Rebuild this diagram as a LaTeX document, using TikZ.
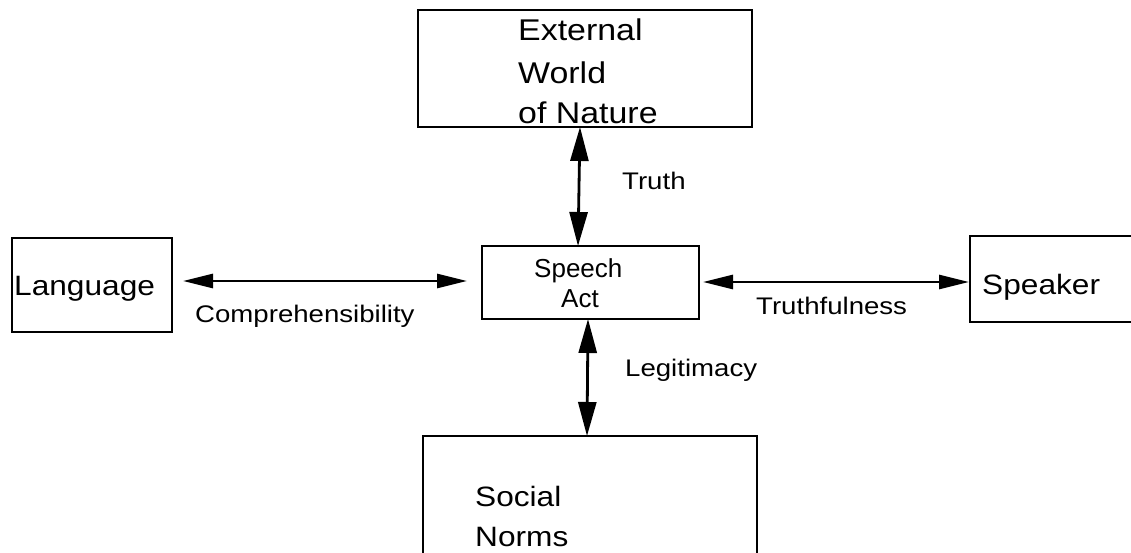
\documentclass[tikz,border=0pt]{standalone}
\usepackage{fontspec}
\setmainfont{Liberation Sans}
\newfontfamily\widefont[FakeStretch=1.13]{Liberation Sans}
\newfontfamily\lblfont[FakeStretch=1.15]{Liberation Sans}
\usetikzlibrary{arrows.meta,calc}
\begin{document}
\begin{tikzpicture}[x=1pt,y=-1pt,
  box/.style={draw,line width=2.8pt,inner sep=0pt,outer sep=0pt},
  boxtext/.style={anchor=base west,inner sep=0pt,font=\widefont\fontsize{28}{34}\selectfont},
  lbl/.style={anchor=base west,inner sep=0pt,font=\lblfont\fontsize{24}{28}\selectfont},
  harrow/.style={line width=2.8pt,{Triangle[length=30pt,width=14pt]}-{Triangle[length=30pt,width=14pt]}},
  varrow/.style={line width=2.8pt,{Triangle[length=34pt,width=18pt]}-{Triangle[length=34pt,width=18pt]}}]
\useasboundingbox (0,0) rectangle (1131,552);
\clip (0,0) rectangle (1131,552);
\fill[white] (0,0) rectangle (1131,552);
% boxes
\node[box,minimum width=334pt,minimum height=117pt] (ext) at (585,68.5) {};
\node[box,minimum width=160pt,minimum height=94pt] (lang) at (92,285) {};
\node[box,minimum width=217pt,minimum height=73pt] (sa) at (590.5,282.5) {};
\node[box,minimum width=180pt,minimum height=86pt] (spk) at (1060,279) {};
\node[box,minimum width=334pt,minimum height=160pt] (soc) at (590,516) {};
% texts
\node[boxtext,font=\widefont\fontsize{30}{34}\selectfont] (t1) at (518,40) {External};
\node[boxtext,font=\widefont\fontsize{30}{34}\selectfont] (t2) at (518,83) {World};
\node[boxtext,font=\widefont\fontsize{30}{34}\selectfont] (t3) at (518,123) {of Nature};
\node[boxtext] (tl) at (14,295) {Language};
\node[boxtext] (ts) at (982,294) {Speaker};
\node[anchor=base west,inner sep=0pt,font=\fontsize{26}{30}\selectfont] (ta1) at (534,277) {Speech};
\node[anchor=base west,inner sep=0pt,font=\fontsize{26}{30}\selectfont] (ta2) at (561,307) {Act};
\node[boxtext] (tn1) at (475,506) {Social};
\node[boxtext] (tn2) at (475,546) {Norms};
% connector end points
\coordinate (cl) at ($(lang.east)+(11,-4)$);
\coordinate (cr) at ($(sa.west)+(-15,-1.5)$);
\coordinate (tl0) at ($(sa.east)+(4,-0.5)$);
\coordinate (tr0) at ($(spk.west)+(-1,3)$);
\coordinate (tu) at ($(ext.south)+(-5,0)$);
\coordinate (td) at ($(sa.north)+(-12.5,0)$);
\coordinate (lu) at ($(sa.south)+(-2.5,0)$);
\coordinate (ld) at ($(soc.north)+(-3,0)$);
% connectors
\draw[harrow] (cl) -- (cr);
\draw[harrow] (tl0) -- (tr0);
\draw[varrow] (tu) -- (td);
\draw[varrow] (lu) -- (ld);
% labels
\node[lbl] (lt) at (622,189) {Truth};
\node[lbl] (lc) at (195,322) {Comprehensibility};
\node[lbl] (ltf) at (756,314) {Truthfulness};
\node[lbl] (llg) at (625,376) {Legitimacy};
\end{tikzpicture}
\end{document}
